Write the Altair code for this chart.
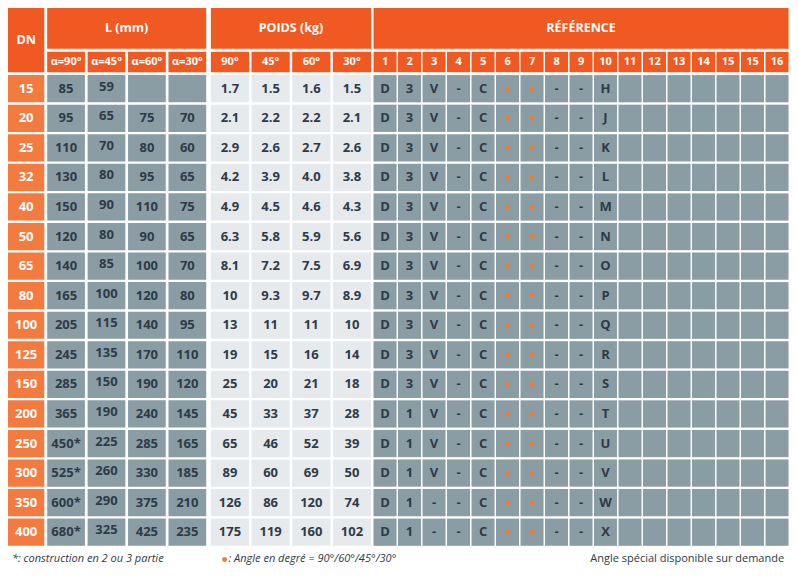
import altair as alt
import pandas as pd

# ---------------- data ----------------
dn = ["15", "20", "25", "32", "40", "50", "65", "80", "100", "125", "150", "200", "250", "300", "350", "400"]
l_headers = ["α=90°", "α=45°", "α=60°", "α=30°"]
p_headers = ["90°", "45°", "60°", "30°"]
ref_headers = ["1", "2", "3", "4", "5", "6", "7", "8", "9", "10", "11", "12", "13", "14", "15", "15", "16"]

L90 = ["85", "95", "110", "130", "150", "120", "140", "165", "205", "245", "285", "365", "450*", "525*", "600*", "680*"]
L45 = ["59", "65", "70", "80", "90", "80", "85", "100", "115", "135", "150", "190", "225", "260", "290", "325"]
L60 = ["", "75", "80", "95", "110", "90", "100", "120", "140", "170", "190", "240", "285", "330", "375", "425"]
L30 = ["", "70", "60", "65", "75", "65", "70", "80", "95", "110", "120", "145", "165", "185", "210", "235"]

P90 = ["1.7", "2.1", "2.9", "4.2", "4.9", "6.3", "8.1", "10", "13", "19", "25", "45", "65", "89", "126", "175"]
P45 = ["1.5", "2.2", "2.6", "3.9", "4.5", "5.8", "7.2", "9.3", "11", "15", "20", "33", "46", "60", "86", "119"]
P60 = ["1.6", "2.2", "2.7", "4.0", "4.6", "5.9", "7.5", "9.7", "11", "16", "21", "37", "52", "69", "120", "160"]
P30 = ["1.5", "2.1", "2.6", "3.8", "4.3", "5.6", "6.9", "8.9", "10", "14", "18", "28", "39", "50", "74", "102"]

R1 = ["D"] * 16
R2 = ["3"] * 11 + ["1"] * 5
R3 = ["V"] * 14 + ["-"] * 2
R4 = ["-"] * 16
R5 = ["C"] * 16
R6 = ["•"] * 16
R7 = ["•"] * 16
R8 = ["-"] * 16
R9 = ["-"] * 16
R10 = ["H", "J", "K", "L", "M", "N", "O", "P", "Q", "R", "S", "T", "U", "V", "W", "X"]

group_titles = ["DN", "L (mm)", "POIDS (kg)", "RÉFÉRENCE"]
footer_left = "*: construction en 2 ou 3 partie"
footer_mid = ": Angle en degré = 90°/60°/45°/30°"
footer_right = "Angle spécial disponible sur demande"

# ---------------- styling / layout ----------------
ORANGE = "#F05A22"
ORANGE_LIGHT = "#F47B40"
GRAY = "#8A9DA5"
LIGHT = "#E6EAED"
DARK = "#2E3A48"
DOT = "#F47A30"
FONT = "Open Sans"

W_REF, H_REF = 798, 583
W, H = 782, 567

dn_x = (0, 37)
l_start, l_pitch, l_w = 40, 41.25, 38.5
p_start, p_pitch, p_w = 207, 41.5, 39
r_start, r_pitch, r_w = 373, 25, 23.5
h1 = (0, 42)
h2 = (45, 66)
row_top, row_pitch, row_h = 69, 30.4, 28

cells = []
def add(x0, x1, y0, y1, fill, text, tcolor, size, dy=0):
    cells.append(dict(x0=x0, x1=x1, y0=y0, y1=y1, fill=fill, text=text,
                      tcolor=tcolor, size=size, xc=(x0 + x1) / 2, yc=(y0 + y1) / 2 + dy))

# headers
add(dn_x[0], dn_x[1], h1[0], h2[1], ORANGE, group_titles[0], "white", 12.5)
add(l_start, l_start + 3 * l_pitch + l_w, h1[0], h1[1], ORANGE, group_titles[1], "white", 12.5)
add(p_start, p_start + 3 * p_pitch + p_w, h1[0], h1[1], ORANGE, group_titles[2], "white", 12.5)
add(r_start, r_start + 16 * r_pitch + r_w, h1[0], h1[1], ORANGE, group_titles[3], "white", 12.5)
for i, t in enumerate(l_headers):
    x0 = l_start + i * l_pitch
    add(x0, x0 + l_w, h2[0], h2[1], ORANGE, t, "white", 11)
for i, t in enumerate(p_headers):
    x0 = p_start + i * p_pitch
    add(x0, x0 + p_w, h2[0], h2[1], ORANGE, t, "white", 11)
for i, t in enumerate(ref_headers):
    x0 = r_start + i * r_pitch
    add(x0, x0 + r_w, h2[0], h2[1], ORANGE, t, "white", 11)

dots = []
Lcols = [L90, L45, L60, L30]
Pcols = [P90, P45, P60, P30]
Rcols = [R1, R2, R3, R4, R5, R6, R7, R8, R9, R10] + [[""] * 16] * 7
for r in range(16):
    y0 = row_top + r * row_pitch
    y1 = y0 + row_h
    add(dn_x[0], dn_x[1], y0, y1, ORANGE_LIGHT, dn[r], "white", 13)
    for i, col in enumerate(Lcols):
        x0 = l_start + i * l_pitch
        add(x0, x0 + l_w, y0, y1, GRAY, col[r], DARK, 13, -2 if i == 1 else 0)
    for i, col in enumerate(Pcols):
        x0 = p_start + i * p_pitch
        add(x0, x0 + p_w, y0, y1, LIGHT, col[r], DARK, 13)
    for i, col in enumerate(Rcols):
        x0 = r_start + i * r_pitch
        v = col[r]
        if v == "•":
            add(x0, x0 + r_w, y0, y1, GRAY, "", DARK, 13)
            dots.append(dict(x=x0 + r_w / 2, y=(y0 + y1) / 2))
        else:
            add(x0, x0 + r_w, y0, y1, GRAY, v, DARK, 13)

df = pd.DataFrame(cells)
dots_df = pd.DataFrame(dots + [dict(x=221, y=567)])

xs = alt.Scale(domain=[0, W_REF], range=[0, W], nice=False, zero=False)
ys = alt.Scale(domain=[0, H_REF], range=[0, H], nice=False, zero=False)

base = alt.Chart(df)
rects = base.mark_rect(strokeWidth=0).encode(
    x=alt.X("x0:Q", scale=xs, axis=None),
    x2="x1:Q",
    y=alt.Y("y0:Q", scale=ys, axis=None),
    y2="y1:Q",
    fill=alt.Fill("fill:N", scale=None),
)
texts = base.mark_text(font=FONT, fontWeight="bold", baseline="middle", align="center").encode(
    x=alt.X("xc:Q", scale=xs, axis=None),
    y=alt.Y("yc:Q", scale=ys, axis=None),
    text="text:N",
    color=alt.Color("tcolor:N", scale=None),
    size=alt.Size("size:Q", scale=None),
)
dot_layer = alt.Chart(dots_df).mark_circle(color=DOT, opacity=1, size=24).encode(
    x=alt.X("x:Q", scale=xs, axis=None),
    y=alt.Y("y:Q", scale=ys, axis=None),
)

foot_italic = pd.DataFrame({"x": [4, 225], "y": [567, 567], "text": [footer_left, footer_mid]})
foot_plain = pd.DataFrame({"x": [792], "y": [567], "text": [footer_right]})

foot_l = alt.Chart(foot_italic).mark_text(
    font=FONT, fontStyle="italic", fontSize=11, color=DARK, align="left", baseline="middle"
).encode(x=alt.X("x:Q", scale=xs, axis=None), y=alt.Y("y:Q", scale=ys, axis=None), text="text:N")
foot_r = alt.Chart(foot_plain).mark_text(
    font=FONT, fontSize=11, color=DARK, align="right", baseline="middle"
).encode(x=alt.X("x:Q", scale=xs, axis=None), y=alt.Y("y:Q", scale=ys, axis=None), text="text:N")

chart = alt.layer(rects, texts, dot_layer, foot_l, foot_r).properties(
    width=W, height=H, autosize=alt.AutoSizeParams(type="none"), padding=0, background="white"
).configure_view(stroke=None)

chart.save("out.html", embed_options={"renderer": "svg", "actions": False})
